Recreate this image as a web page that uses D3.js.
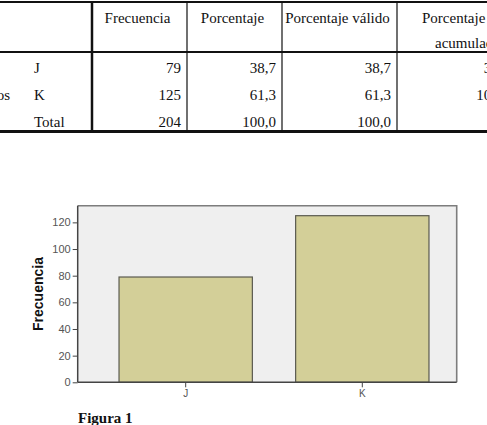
<!DOCTYPE html>
<html>
<head>
<meta charset="utf-8">
<script src="https://cdn.jsdelivr.net/npm/d3@7"></script>
<style>
  body { margin: 0; background: #fff; }
  svg { display: block; }
</style>
</head>
<body>
<svg id="scene" width="487" height="425"></svg>
<script>
var svg = d3.select("#scene")

// table data
var headers = ["Frecuencia", "Porcentaje", "Porcentaje válido", "Porcentaje acumulado"]
var rowLabels = ["J", "K", "Total"]
var frecuencia = [79, 125, 204]
var porcentaje = ["38,7", "61,3", "100,0"]
var valido = ["38,7", "61,3", "100,0"]
var acumulado = ["38,7", "100,0", ""]
var groupLabel = "Válidos"

// chart data
var categories = ["J", "K"]
var counts = [79, 125]
var yTicks = [0, 20, 40, 60, 80, 100, 120]

// ---- table ----
var colEdges = [92, 187, 282, 397, 516]
var rowBase = [73, 100, 127]
var serif = "'Liberation Serif', 'Times New Roman', serif"

var table = svg.append("g").style("font-family", serif).style("font-size", "15px").style("fill", "#111")

// header texts
headers.forEach(function (h, i) {
    var cx = (colEdges[i] + colEdges[i + 1]) / 2 - 2
    if (i < 3) {
        table.append("text").attr("x", cx).attr("y", 23).attr("text-anchor", "middle").text(h)
    } else {
        var parts = h.split(" ")
        table.append("text").attr("x", 422).attr("y", 23).text(parts[0])
        table.append("text").attr("x", 435).attr("y", 48).text(parts[1])
    }
})

table.append("text").attr("x", 10).attr("y", rowBase[1]).attr("text-anchor", "end").text(groupLabel)

var cols = [frecuencia, porcentaje, valido, acumulado]
rowLabels.forEach(function (r, j) {
    table.append("text").attr("x", 34).attr("y", rowBase[j]).text(r)
    cols.forEach(function (col, i) {
        table.append("text")
            .attr("x", colEdges[i + 1] - 6)
            .attr("y", rowBase[j])
            .attr("text-anchor", "end")
            .text(col[j])
    })
})

// table rules
var lines = svg.append("g").attr("stroke", "#111")
lines.append("line").attr("x1", 0).attr("x2", 487).attr("y1", 2).attr("y2", 2).attr("stroke-width", 2)
lines.append("line").attr("x1", 0).attr("x2", 487).attr("y1", 52).attr("y2", 52).attr("stroke-width", 2)
lines.append("line").attr("x1", 0).attr("x2", 487).attr("y1", 131.5).attr("y2", 131.5).attr("stroke-width", 3)
colEdges.slice(0, 4).forEach(function (x, i) {
    lines.append("line")
        .attr("x1", x).attr("x2", x).attr("y1", 1).attr("y2", 133)
        .attr("stroke-width", i == 0 ? 2.5 : 1.2)
})

// ---- bar chart ----
var plotLeft = 77.7, plotRight = 456.7, plotTop = 205.7, plotBottom = 382.3

var x = d3.scaleBand()
    .domain(categories)
    .range([plotLeft, plotLeft + 392.6])
    .paddingInner(0.245)
    .paddingOuter(0.234)

var y = d3.scaleLinear()
    .domain([0, 132.5])
    .range([plotBottom, plotTop])

var chart = svg.append("g")

chart.append("rect")
    .attr("x", plotLeft).attr("y", plotTop)
    .attr("width", plotRight - plotLeft).attr("height", plotBottom - plotTop)
    .attr("fill", "#efefef")

// top and right frame
chart.append("path")
    .attr("d", "M" + plotLeft + "," + plotTop + "H" + plotRight + "V" + plotBottom)
    .attr("fill", "none")
    .attr("stroke", "#7d7d7d")
    .attr("stroke-width", 1.6)

chart.selectAll("rect.bar")
    .data(counts)
    .enter()
    .append("rect")
    .attr("class", "bar")
    .attr("x", function (d, i) { return x(categories[i]) })
    .attr("y", function (d) { return y(d) })
    .attr("width", x.bandwidth())
    .attr("height", function (d) { return plotBottom - y(d) })
    .attr("fill", "#d3cf98")
    .attr("stroke", "#5a5a50")
    .attr("stroke-width", 1.2)

var yAxis = d3.axisLeft(y).tickValues(yTicks).tickSize(5).tickPadding(2).tickFormat(d3.format("d"))
var gy = chart.append("g")
    .attr("transform", "translate(" + plotLeft + ",0)")
    .call(yAxis)
gy.select(".domain").attr("d", "M0," + plotTop + "V" + plotBottom).attr("stroke", "#444").attr("stroke-width", 1.5)
gy.selectAll(".tick line").attr("stroke", "#444")
gy.selectAll(".tick text")
    .style("font-family", "'Liberation Sans', Arial, sans-serif")
    .style("font-size", "11px")
    .attr("fill", "#555")

var xAxis = d3.axisBottom(x).tickSize(5).tickPadding(3)
var gx = chart.append("g")
    .attr("transform", "translate(0," + plotBottom + ")")
    .call(xAxis)
gx.select(".domain").attr("d", "M" + plotLeft + ",0H" + plotRight).attr("stroke", "#444").attr("stroke-width", 1.5)
gx.selectAll(".tick line").attr("stroke", "#444")
gx.selectAll(".tick text")
    .style("font-family", "'Liberation Sans', Arial, sans-serif")
    .style("font-size", "10px")
    .attr("fill", "#555")

chart.append("text")
    .attr("transform", "translate(43," + ((plotTop + plotBottom) / 2) + ")rotate(-90)")
    .attr("text-anchor", "middle")
    .style("font-family", "'Liberation Sans', Arial, sans-serif")
    .style("font-size", "14px")
    .style("font-weight", "bold")
    .attr("fill", "#111")
    .text("Frecuencia")

svg.append("text")
    .attr("x", 78).attr("y", 423)
    .style("font-family", serif)
    .style("font-size", "15px")
    .style("font-weight", "bold")
    .attr("fill", "#111")
    .text("Figura 1")
</script>
</body>
</html>
